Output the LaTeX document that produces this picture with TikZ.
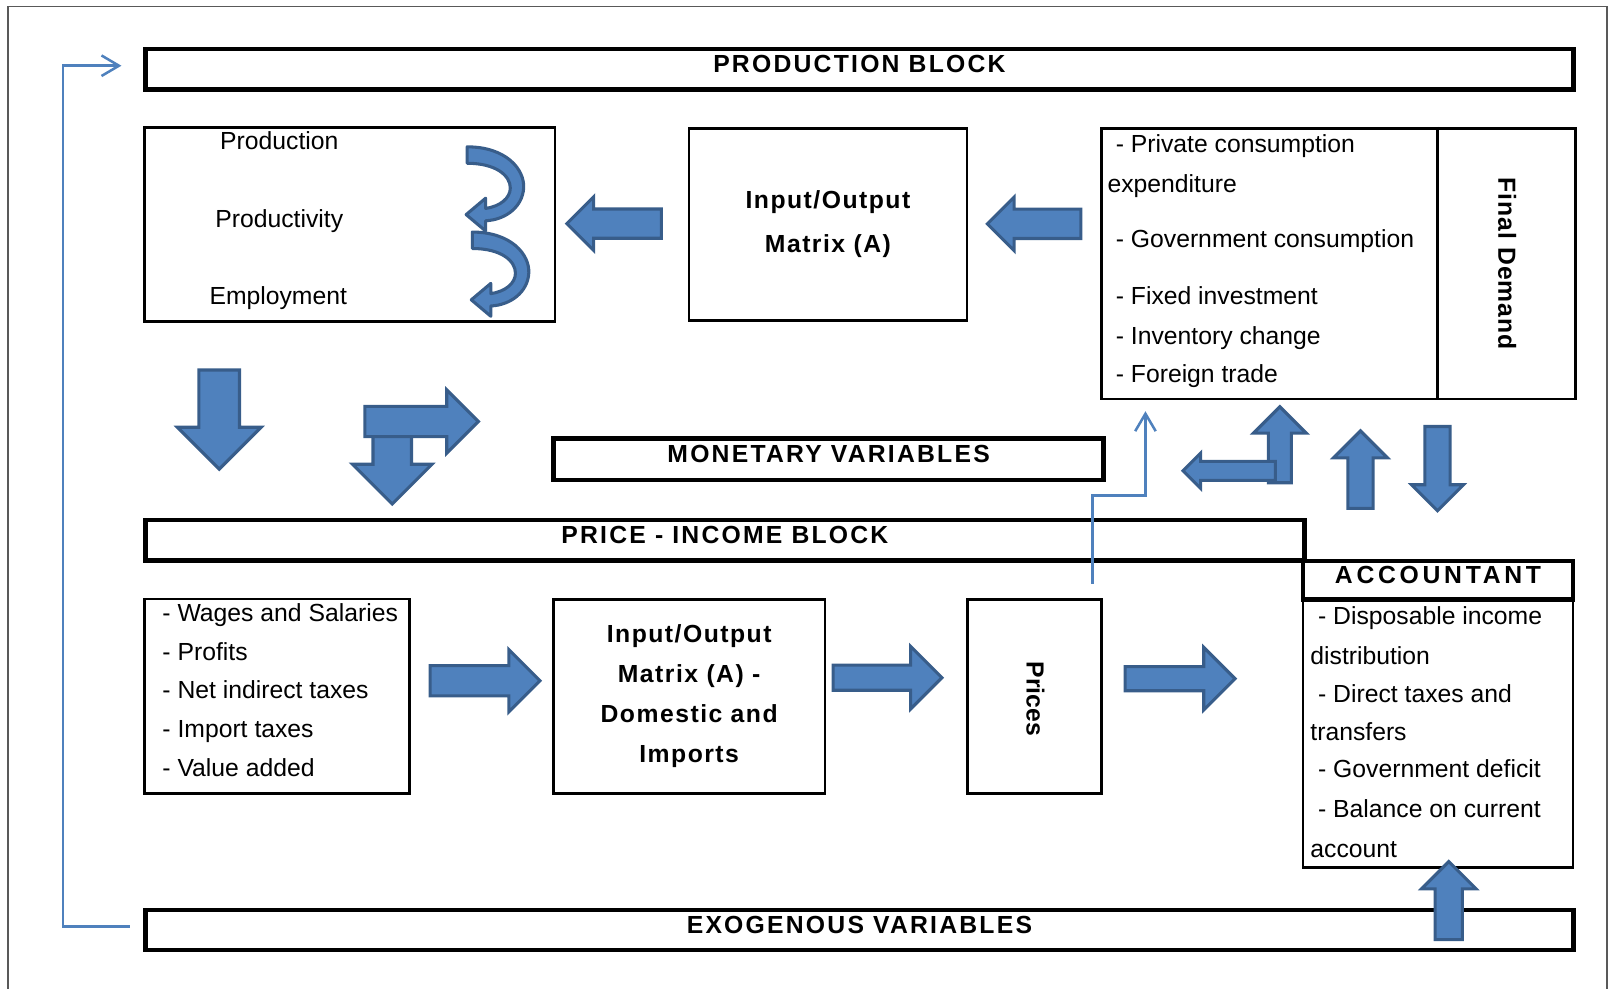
\documentclass[tikz,border=0pt]{standalone}
\usepackage{fontspec}
\setmainfont{Liberation Sans}
\usepackage{tikz}
\usetikzlibrary{shapes,arrows,arrows.meta,positioning}
\usepackage{xcolor}

\definecolor{blockblue}{HTML}{4F81BD}
\definecolor{blockedge}{HTML}{385D8A}

\newcommand{\hdfont}{\fontsize{6.85}{8.2}\selectfont\bfseries\addfontfeature{LetterSpace=9}}

\tikzset{
    box/.style={draw, line width=0.75pt, inner sep=0pt},
    blk/.style={draw, line width=1.3pt, inner sep=0pt, text depth=0.11cm, font=\hdfont},
    barrow/.style={single arrow, draw=blockedge, fill=blockblue, line width=0.85pt, inner xsep=0pt, anchor=tip},
    curv/.style={draw=blockedge, fill=blockblue, line width=0.85pt, line join=round},
    fbline/.style={draw=blockblue, line width=0.7pt, -{Straight Barb[length=0.17cm,width=0.2cm]}}
}

\begin{document}
\begin{tikzpicture}[
        x=0.01cm, y=-0.01cm,
        every node/.style={inner sep=0pt, font=\fontsize{6.85}{8.2}\selectfont}
    ]
        \useasboundingbox (0,0) rectangle (1568,963);

        % page frame
        \draw[gray!70!black, line width=0.5pt] (7.5,1000) -- (7.5,6.3) -- (1565,6.3) -- (1565,1000);

        % Production block - top band
        \node[blk, minimum width=13.9cm, minimum height=0.394cm] (prodblk) at (837,67.5) {PRODUCTION BLOCK};

        % Production / Productivity / Employment
        \node[box, minimum width=3.996cm, minimum height=1.89cm] (prod) at (340.7,218.8) {};
        \node[anchor=base] (tprod) at (272,145.5) {Production};
        \node[anchor=base] (tpvty) at (272,222) {Productivity};
        \node[anchor=base] (temp) at (271,296.5) {Employment};
        \draw[curv, shift={(455,143)}] (0,0) .. controls (38,0) and (56,22) .. (55,40)
            .. controls (54,58) and (38,71) .. (18,72) -- (18,82) -- (-1,66) -- (18,50) -- (18,60)
            .. controls (32,58) and (42,50) .. (42,40) .. controls (42,28) and (28,16) .. (0,16) -- cycle;
        \draw[curv, shift={(460,226)}] (0,0) .. controls (38,0) and (56,22) .. (55,40)
            .. controls (54,58) and (38,71) .. (18,72) -- (18,82) -- (-1,66) -- (18,50) -- (18,60)
            .. controls (32,58) and (42,50) .. (42,40) .. controls (42,28) and (28,16) .. (0,16) -- cycle;

        % Input/Output matrix - top
        \node[box, minimum width=2.706cm, minimum height=1.867cm, align=center,
              font=\fontsize{6.85}{12}\selectfont\bfseries\addfontfeature{LetterSpace=6}] (iotop) at (806.3,218.4)
              {Input/Output\\Matrix (A)};

        % Final demand
        \node[box, minimum width=4.61cm, minimum height=2.636cm] (fd) at (1303.5,256.8) {};
        \draw[line width=0.75pt] ([xshift=3.286cm]fd.north west) -- ([xshift=3.286cm]fd.south west);
        \node[anchor=base west] (fd1) at (1086,148.5) {- Private consumption};
        \node[anchor=base west] (fd2) at (1078,187.5) {expenditure};
        \node[anchor=base west] (fd3) at (1086,241) {- Government consumption};
        \node[anchor=base west] (fd4) at (1086,296.5) {- Fixed investment};
        \node[anchor=base west] (fd5) at (1086,335.5) {- Inventory change};
        \node[anchor=base west] (fd6) at (1086,372.5) {- Foreign trade};
        \node[rotate=-90, font=\fontsize{6.85}{8.2}\selectfont\bfseries\addfontfeature{LetterSpace=4}] (fdtxt) at (1468,257) {Final Demand};

        % arrows between top boxes
        \node[barrow, minimum height=0.92cm, inner ysep=0.1275cm, single arrow head extend=0.1175cm, rotate=180] (la1) at (550,217.8) {};
        \node[barrow, minimum height=0.91cm, inner ysep=0.1275cm, single arrow head extend=0.1175cm, rotate=180] (la2) at (959.5,218) {};

        % Monetary variables
        \node[blk, minimum width=5.357cm, minimum height=0.406cm] (money) at (807,447.2) {MONETARY VARIABLES};

        % arrows down to the price block
        \node[barrow, minimum height=0.965cm, inner ysep=0.1825cm, single arrow head extend=0.21cm, rotate=-90] (da1) at (213.5,459) {};
        \node[barrow, minimum height=0.825cm, inner ysep=0.1725cm, single arrow head extend=0.2cm, rotate=-90] (dn2) at (382,493) {};
        \node[barrow, minimum height=1.105cm, inner ysep=0.1325cm, single arrow head extend=0.16cm] (ra0) at (468,410.5) {};

        % arrows round final demand
        \node[barrow, minimum height=0.74cm, inner ysep=0.0975cm, single arrow head extend=0.145cm, rotate=90] (ua1) at (1246.5,394) {};
        \node[barrow, minimum height=0.9cm, inner ysep=0.0775cm, single arrow head extend=0.08cm, rotate=180] (lb) at (1150,458.5) {};
        \node[barrow, minimum height=0.755cm, inner ysep=0.1075cm, single arrow head extend=0.14cm, rotate=90] (ua2) at (1325,417.5) {};
        \node[barrow, minimum height=0.82cm, inner ysep=0.1075cm, single arrow head extend=0.13cm, rotate=-90] (da2) at (1400,499.5) {};

        % Price - income block
        \node[blk, minimum width=11.28cm, minimum height=0.395cm] (priceblk) at (706,526.3) {PRICE - INCOME BLOCK};
        \node[blk, minimum width=2.63cm, minimum height=0.375cm, font=\fontsize{6.85}{8.2}\selectfont\bfseries\addfontfeature{LetterSpace=15}] (acc) at (1400.5,565) {ACCOUNTANT};
        \node[box, minimum width=2.63cm, minimum height=2.616cm] (acclist) at (1400.5,714.2) {};
        \node[anchor=base west] (ac1) at (1283,608) {- Disposable income};
        \node[anchor=base west] (ac2) at (1275.5,647) {distribution};
        \node[anchor=base west] (ac3) at (1283,684.5) {- Direct taxes and};
        \node[anchor=base west] (ac4) at (1275.5,721.5) {transfers};
        \node[anchor=base west] (ac5) at (1283,757.5) {- Government deficit};
        \node[anchor=base west] (ac6) at (1283,796.5) {- Balance on current};
        \node[anchor=base west] (ac7) at (1275.5,835.5) {account};

        % Wages and Salaries
        \node[box, minimum width=2.578cm, minimum height=1.89cm] (wages) at (269.9,678) {};
        \node[anchor=base west] (wg1) at (157.5,605.5) {- Wages and Salaries};
        \node[anchor=base west] (wg2) at (157.5,643) {- Profits};
        \node[anchor=base west] (wg3) at (157.5,680.5) {- Net indirect taxes};
        \node[anchor=base west] (wg4) at (157.5,718.5) {- Import taxes};
        \node[anchor=base west] (wg5) at (157.5,756.5) {- Value added};

        % Input/Output matrix - bottom
        \node[box, minimum width=2.643cm, minimum height=1.89cm, align=center,
              font=\fontsize{6.85}{11.1}\selectfont\bfseries\addfontfeature{LetterSpace=6}] (iobot) at (671.2,678.1)
              {Input/Output\\Matrix (A) -\\Domestic and\\Imports};

        % Prices
        \node[box, minimum width=1.304cm, minimum height=1.886cm] (prices) at (1007.7,678.3) {};
        \node[rotate=-90, font=\fontsize{6.85}{8.2}\selectfont\bfseries] (pricetxt) at (1008.5,680.7) {Prices};

        % arrows of the lower row
        \node[barrow, minimum height=1.07cm, inner ysep=0.1325cm, single arrow head extend=0.155cm] (ra1) at (528,663) {};
        \node[barrow, minimum height=1.06cm, inner ysep=0.1075cm, single arrow head extend=0.1825cm] (ra2) at (919.5,660) {};
        \node[barrow, minimum height=1.07cm, inner ysep=0.1025cm, single arrow head extend=0.1875cm] (ra3) at (1205,661) {};

        % Exogenous variables
        \node[blk, minimum width=13.9cm, minimum height=0.389cm] (exo) at (837,905.8) {EXOGENOUS VARIABLES};
        \node[barrow, minimum height=0.76cm, inner ysep=0.1175cm, single arrow head extend=0.1325cm, rotate=90] (ua3) at (1411,837) {};

        % feedback lines
        \draw[fbline] ([xshift=-0.13cm,yshift=0.035cm]exo.west) -- ++(-65,0) |- ([xshift=-0.21cm,yshift=0.035cm]prodblk.west);
        \draw[fbline] ([xshift=-0.1cm,yshift=0.14cm]prices.north east) -- ++(0,-86) -| ([xshift=0.44cm,yshift=-0.105cm]fd.south west);

    \end{tikzpicture}
\end{document}
